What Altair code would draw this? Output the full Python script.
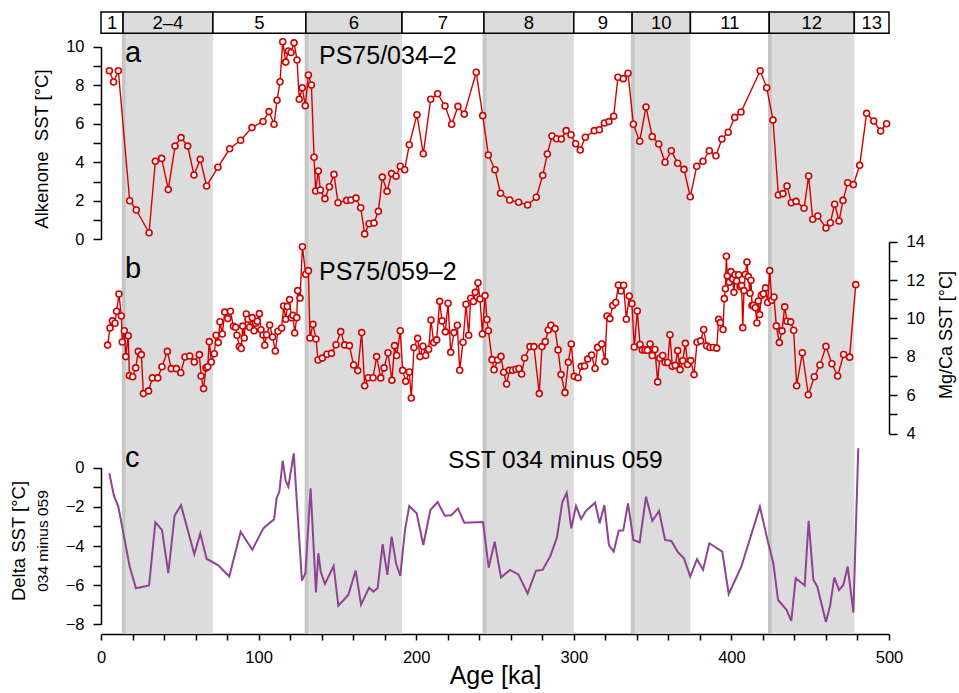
import altair as alt
import pandas as pd

# ---------------- data ----------------
stage_names = ["1", "2–4", "5", "6", "7", "8", "9", "10", "11", "12", "13"]
stage_start = [0, 14, 71, 130, 191, 243, 300, 337, 374, 424, 478]
stage_end = [14, 71, 130, 191, 243, 300, 337, 374, 424, 478, 500]
stage_glacial = [0, 1, 0, 1, 0, 1, 0, 1, 0, 1, 0]

glacial_start = [14, 130, 243, 337, 424]
glacial_end = [71, 191, 300, 374, 478]
termination_start = [13.2, 129.2, 242.2, 336.2, 423.2]
termination_end = [15.6, 131.6, 244.6, 338.6, 425.6]

a_age = [5.3, 8.0, 11.0, 18.2, 22.4, 30.5, 34.5, 38.5, 42.7, 47.0,
         50.8, 55.0, 59.0, 63.0, 67.0, 74.2, 81.6, 88.6, 95.8, 102.8,
         106.6, 109.8, 111.7, 113.6, 115.3, 117.2, 118.9, 120.6, 122.5, 124.4,
         125.8, 127.7, 129.6, 131.6, 133.5, 135.2, 136.2, 137.9, 139.2, 142.1,
         144.9, 147.8, 150.4, 155.9, 158.6, 161.8, 164.8, 167.3, 170.1, 173.2,
         176.0, 178.5, 181.5, 184.4, 187.2, 189.9, 192.7, 195.6, 200.5, 204.5,
         209.2, 213.6, 218.3, 222.5, 226.5, 230.5, 238.1, 242.2, 245.8, 250.0,
         253.5, 259.3, 265.0, 270.7, 276.2, 280.3, 283.2, 286.2, 289.1, 292.1,
         295.2, 298.2, 301.2, 304.1, 307.3, 313.0, 316.2, 319.4, 322.3, 325.3,
         328.0, 331.4, 334.4, 337.8, 341.8, 345.8, 349.8, 353.9, 357.9, 361.9,
         365.9, 369.9, 373.9, 378.0, 382.0, 386.0, 390.2, 394.0, 398.0, 402.1,
         406.1, 418.3, 422.4, 426.4, 429.8, 432.7, 435.3, 438.0, 441.0, 446.1,
         449.0, 451.6, 454.8, 460.0, 462.8, 465.5, 468.3, 470.8, 473.8, 477.4,
         481.4, 485.8, 490.3, 494.7, 498.5]
a_sst = [8.75, 8.17, 8.75, 2.0, 1.52, 0.34, 4.05, 4.2, 2.58, 4.84,
         5.28, 4.84, 3.34, 4.15, 2.77, 3.74, 4.7, 5.14, 5.8, 6.12,
         6.63, 5.97, 7.22, 8.18, 10.26, 9.2, 9.78, 9.7, 10.2, 9.31,
         7.27, 7.87, 6.94, 8.53, 8.01, 4.26, 2.51, 3.55, 2.56, 2.11,
         2.73, 3.37, 1.9, 2.02, 2.04, 2.14, 1.64, 0.28, 0.81, 0.85,
         1.45, 3.23, 2.49, 3.41, 3.27, 3.79, 3.61, 4.91, 6.47, 4.44,
         7.27, 7.56, 6.92, 5.97, 6.9, 6.5, 8.67, 6.42, 4.38, 3.61,
         2.39, 2.04, 1.92, 1.78, 2.18, 3.32, 4.43, 5.36, 5.22, 5.21,
         5.64, 5.43, 4.96, 4.64, 5.3, 5.64, 5.69, 6.04, 6.11, 6.39,
         8.41, 8.34, 8.62, 5.97, 5.09, 6.87, 5.33, 4.95, 4.0, 4.6,
         3.95, 3.63, 2.21, 3.79, 4.05, 4.6, 4.34, 5.21, 5.56, 6.33,
         6.61, 8.75, 7.87, 6.19, 2.3, 2.37, 2.77, 1.9, 1.97, 1.61,
         3.29, 1.04, 1.21, 0.59, 0.86, 1.82, 0.95, 2.02, 2.94, 2.84,
         3.84, 6.54, 6.14, 5.62, 6.0]

b_age = [4.2, 5.7, 7.2, 8.9, 9.9, 11.4, 12.9, 13.5, 14.8, 15.7,
         17.3, 18.0, 20.1, 22.0, 23.7, 25.6, 26.9, 30.2, 32.6, 36.0,
         38.7, 42.1, 44.6, 47.8, 50.6, 53.3, 56.3, 59.2, 62.4, 63.5,
         65.1, 66.6, 67.7, 68.7, 70.0, 71.9, 73.0, 74.4, 75.5, 77.0,
         78.5, 80.4, 82.1, 84.0, 85.4, 86.3, 87.8, 89.0, 89.9, 90.9,
         92.2, 93.3, 94.3, 96.0, 97.1, 98.1, 99.2, 100.5, 101.5, 102.8,
         103.9, 105.1, 107.0, 108.9, 110.6, 112.3, 114.6, 115.9, 117.2, 118.2,
         119.7, 120.8, 121.8, 122.9, 124.2, 124.8, 126.3, 127.8, 129.9, 131.6,
         132.6, 134.5, 136.4, 137.7, 140.4, 143.4, 146.2, 149.1, 152.1, 154.6,
         157.6, 160.3, 162.9, 165.4, 167.3, 169.6, 172.6, 174.9, 177.5, 179.6,
         182.1, 184.6, 186.3, 187.6, 189.9, 191.4, 193.3, 195.6, 196.9, 198.6,
         200.9, 202.4, 204.3, 206.0, 207.9, 209.4, 211.1, 213.0, 214.9, 216.4,
         218.5, 220.2, 221.9, 224.0, 226.1, 227.6, 229.7, 231.6, 233.3, 234.6,
         236.3, 237.5, 239.2, 240.5, 242.0, 243.7, 244.9, 245.8, 248.1, 249.4,
         251.7, 253.8, 255.5, 257.4, 259.1, 261.2, 263.3, 265.2, 266.9, 268.8,
         272.2, 274.7, 278.1, 279.8, 281.9, 283.8, 285.5, 288.1, 290.0, 291.9,
         294.4, 296.5, 298.4, 300.3, 302.7, 304.8, 306.9, 308.8, 311.3, 313.5,
         315.1, 317.7, 319.8, 321.1, 322.9, 324.7, 326.6, 328.3, 329.9, 331.6,
         333.3, 335.2, 336.9, 338.4, 340.3, 342.0, 343.5, 345.2, 346.7, 348.4,
         349.8, 351.5, 353.2, 354.5, 356.4, 357.9, 359.6, 361.0, 362.5, 364.4,
         365.9, 367.4, 369.1, 370.8, 372.2, 374.2, 376.3, 378.2, 380.5, 382.4,
         384.3, 386.4, 388.5, 390.7, 391.9, 393.0, 394.7, 395.5, 396.2, 396.8,
         397.4, 398.7, 399.7, 400.8, 401.6, 402.3, 403.3, 404.6, 405.5, 406.5,
         407.2, 408.0, 408.8, 409.9, 410.7, 411.8, 412.4, 413.1, 413.9, 415.2,
         416.2, 417.1, 417.9, 419.0, 420.3, 421.6, 423.0, 424.3, 425.6, 427.0,
         428.5, 430.4, 432.1, 433.8, 435.3, 437.6, 439.5, 441.4, 445.0, 448.8,
         452.6, 456.2, 460.0, 463.8, 467.4, 471.2, 475.0, 478.9]
b_sst = [8.61, 9.5, 9.87, 9.75, 10.37, 11.27, 10.13, 8.77, 9.36, 8.01,
         9.1, 7.02, 6.96, 7.42, 8.28, 8.11, 6.08, 6.22, 6.9, 6.9,
         7.48, 8.28, 7.38, 7.38, 7.17, 7.99, 8.04, 7.73, 8.11, 7.0,
         6.34, 7.42, 7.48, 8.79, 7.73, 8.16, 9.12, 8.74, 9.83, 9.19,
         10.33, 9.99, 10.37, 9.59, 9.54, 9.12, 8.53, 8.43, 9.6, 8.98,
         10.23, 9.96, 9.54, 10.04, 9.36, 9.75, 9.85, 10.25, 9.41, 9.13,
         8.6, 9.15, 9.66, 9.03, 8.3, 9.33, 9.5, 10.65, 9.96, 10.62,
         10.98, 10.04, 10.16, 9.24, 10.04, 11.45, 11.06, 13.74, 12.3, 12.49,
         8.98, 9.69, 8.93, 7.83, 7.93, 8.13, 8.18, 8.63, 9.31, 8.62,
         8.58, 7.57, 7.28, 9.26, 6.49, 6.91, 6.91, 8.01, 6.9, 7.42,
         8.21, 6.77, 8.58, 8.07, 9.36, 7.29, 6.72, 7.21, 5.85, 8.48,
         8.96, 8.01, 8.55, 8.07, 8.39, 9.92, 8.74, 8.88, 10.89, 9.87,
         9.3, 10.79, 8.23, 9.26, 9.64, 7.3, 8.76, 10.74, 9.12, 11.05,
         10.88, 11.36, 11.86, 11.01, 9.19, 11.19, 9.94, 9.36, 7.85, 7.33,
         7.83, 8.02, 7.19, 6.58, 7.3, 7.3, 7.35, 7.39, 7.1, 7.94,
         8.53, 8.53, 6.08, 8.53, 8.79, 9.4, 9.64, 9.47, 8.36, 7.07,
         6.13, 7.71, 8.67, 6.98, 6.91, 7.5, 7.52, 7.88, 8.09, 7.39,
         8.49, 8.67, 7.75, 10.13, 9.99, 10.67, 10.83, 11.74, 11.43, 11.73,
         9.96, 11.17, 10.77, 8.51, 10.39, 8.64, 8.36, 8.36, 8.34, 8.67,
         8.07, 8.38, 6.69, 7.92, 8.07, 7.71, 7.7, 9.15, 7.5, 7.55,
         8.32, 7.33, 7.79, 8.7, 7.6, 7.8, 7.07, 8.76, 8.83, 9.42,
         8.57, 8.48, 8.48, 8.45, 9.95, 9.78, 9.42, 11.03, 11.55, 13.24,
         12.22, 11.89, 12.44, 12.06, 11.36, 12.28, 11.95, 12.28, 11.66, 11.71,
         9.52, 11.45, 12.29, 12.94, 12.18, 11.31, 11.99, 10.67, 10.68, 10.56,
         9.76, 10.91, 10.2, 11.2, 11.29, 11.59, 10.83, 12.49, 10.95, 11.12,
         9.61, 8.74, 9.35, 10.6, 9.85, 9.82, 9.38, 6.49, 8.21, 6.02,
         6.96, 7.57, 8.54, 7.64, 7.0, 8.12, 7.98, 11.76]

c_age = [5.3, 8.2, 11.0, 18.2, 22.2, 30.5, 34.5, 38.7, 42.7, 46.7,
         50.8, 59.2, 63.0, 67.0, 74.4, 81.4, 88.6, 96.0, 103.0, 106.2,
         109.8, 111.5, 113.2, 115.3, 117.2, 118.9, 122.3, 127.5, 129.7, 133.0,
         136.4, 137.9, 139.4, 142.1, 147.6, 150.6, 156.9, 161.6, 165.0, 170.1,
         172.8, 175.5, 178.7, 181.7, 184.4, 187.2, 189.9, 192.9, 195.6, 200.3,
         204.5, 209.0, 213.6, 218.1, 222.3, 226.5, 230.5, 242.4, 246.0, 249.8,
         253.8, 259.5, 264.8, 270.7, 276.0, 280.2, 285.1, 289.3, 292.7, 295.5,
         298.4, 301.4, 304.6, 307.7, 313.5, 316.4, 319.4, 322.3, 325.3, 328.5,
         331.4, 334.4, 337.8, 341.8, 345.8, 349.8, 354.1, 357.9, 361.9, 366.1,
         369.9, 373.9, 378.2, 382.0, 386.0, 394.2, 398.3, 406.3, 418.1, 422.4,
         426.6, 429.6, 435.1, 438.0, 440.8, 446.5, 449.0, 452.0, 454.5, 460.0,
         462.6, 465.3, 468.3, 471.0, 473.8, 477.4, 480.5]
c_dsst = [-0.29, -1.43, -1.99, -5.05, -6.16, -6.02, -2.79, -3.18, -5.39, -2.45,
          -1.92, -4.42, -3.35, -4.65, -4.99, -5.56, -3.27, -4.19, -3.1, -2.88,
          -2.64, -1.53, -1.22, 0.36, -0.68, -0.97, 0.73, -5.77, -5.39, -1.05,
          -6.37, -4.37, -5.3, -5.94, -5.02, -7.05, -6.5, -5.26, -7.0, -6.13,
          -6.33, -6.16, -3.91, -5.48, -3.52, -4.88, -5.53, -3.18, -1.96, -2.33,
          -3.95, -2.16, -1.75, -2.45, -2.43, -2.08, -2.81, -2.78, -5.11, -3.78,
          -5.6, -5.22, -5.45, -6.42, -5.26, -5.22, -4.51, -3.56, -1.77, -1.28,
          -3.1, -1.96, -2.62, -2.21, -1.79, -2.84, -1.91, -3.95, -4.29, -3.22,
          -3.2, -1.82, -3.69, -3.81, -1.48, -2.72, -2.21, -3.69, -3.74, -4.32,
          -4.63, -5.56, -4.67, -5.22, -3.86, -4.29, -6.45, -5.05, -1.99, -3.52,
          -4.88, -6.76, -7.27, -7.83, -5.65, -6.02, -2.71, -5.72, -6.08, -7.88,
          -7.06, -5.6, -6.25, -5.99, -5.05, -7.4, 0.99]

a_ticks = list(range(0, 11))
b_ticks = list(range(4, 15))
c_ticks = list(range(-8, 1))
x_ticks = list(range(0, 501, 20))

label_texts = ["a", "PS75/034–2", "b", "PS75/059–2", "c", "SST 034 minus 059"]
title_texts = ["Alkenone\u00a0 SST [°C]", "Mg/Ca SST [°C]", "Delta SST [°C]",
               "034 minus 059", "Age [ka]"]

# ---------------- styling ----------------
RED = "#d40000"
PURPLE = "#8e4393"
GRAY = "#dcdcdc"
DARK = "#c6c6c6"
FONT = "Liberation Sans"
W, H = 788, 622
BAND = 21.3

stages = pd.DataFrame({"stage": stage_names, "start": stage_start,
                       "end": stage_end, "glacial": stage_glacial})
glac = pd.DataFrame({"start": glacial_start, "end": glacial_end})
term = pd.DataFrame({"start": termination_start, "end": termination_end})
dfa = pd.DataFrame({"age": a_age, "sst": a_sst})
dfb = pd.DataFrame({"age": b_age, "sst": b_sst})
dfc = pd.DataFrame({"age": c_age, "dsst": c_dsst})

xscale = alt.Scale(domain=[0, 500], nice=False, zero=False)
xaxis = alt.Axis(values=x_ticks,
                 labelExpr="datum.value % 100 === 0 ? datum.label : ''",
                 tickSize=6, tickWidth=1.5, tickColor="black",
                 domainColor="black", domainWidth=1.5,
                 labelFontSize=16.5, labelColor="black", labelPadding=9,
                 labelFlush=False, labelOverlap=False, grid=False,
                 title=title_texts[4], titleFontSize=25, titleFontWeight="normal",
                 titleColor="black", titleBaseline="alphabetic", titleY=49)


def X(field):
    return alt.X(f"{field}:Q", scale=xscale, axis=xaxis)


def yaxis(orient, ticks):
    return alt.Axis(orient=orient, values=ticks,
                    labelExpr="datum.value % 2 === 0 ? datum.label : ''",
                    tickSize=8, tickWidth=1.5, tickColor="black",
                    domainColor="black", domainWidth=1.5,
                    labelFontSize=16.5, labelColor="black", labelPadding=9,
                    labelOverlap=False, labelFlush=False, grid=False, title=None)


shade = alt.Chart(glac).mark_rect(color=GRAY).encode(
    x=X("start"), x2="end", y=alt.value(BAND), y2=alt.value(H))
term_ch = alt.Chart(term).mark_rect(color=DARK).encode(
    x=X("start"), x2="end", y=alt.value(BAND), y2=alt.value(H))
boxes = alt.Chart(stages).mark_rect(stroke="black", strokeWidth=1.5).encode(
    x=X("start"), x2="end", y=alt.value(0), y2=alt.value(BAND),
    fill=alt.Fill("glacial:N", scale=alt.Scale(domain=[0, 1], range=["white", GRAY]),
                  legend=None))
stext = alt.Chart(stages).transform_calculate(
    mid="(datum.start + datum.end) / 2").mark_text(
    fontSize=18.5, baseline="middle", color="black").encode(
    x=X("mid"), y=alt.value(BAND / 2), text="stage:N")

# panel a
ya = alt.Y("sst:Q", scale=alt.Scale(domain=[0, 10], range=[227.3, 34.7], nice=False, zero=False),
           axis=yaxis("left", a_ticks))
a_line = alt.Chart(dfa).mark_line(color=RED, strokeWidth=1.4).encode(x=X("age"), y=ya)
a_pts = alt.Chart(dfa).mark_point(shape="circle", filled=True, fill="white", stroke=RED,
                                  strokeWidth=1.6, size=36, opacity=1).encode(x=X("age"), y=ya)
panel_a = alt.layer(a_line, a_pts)

# panel b
yb = alt.Y("sst:Q", scale=alt.Scale(domain=[4, 14], range=[421.5, 229.7], nice=False, zero=False),
           axis=yaxis("right", b_ticks))
b_line = alt.Chart(dfb).mark_line(color=RED, strokeWidth=1.4).encode(x=X("age"), y=yb)
b_pts = alt.Chart(dfb).mark_point(shape="circle", filled=True, fill="white", stroke=RED,
                                  strokeWidth=1.6, size=36, opacity=1).encode(x=X("age"), y=yb)
panel_b = alt.layer(b_line, b_pts)

# panel c
yc = alt.Y("dsst:Q", scale=alt.Scale(domain=[-8, 0], range=[612.3, 455.7], nice=False, zero=False),
           axis=yaxis("left", c_ticks))
panel_c = alt.Chart(dfc).mark_line(color=PURPLE, strokeWidth=2).encode(x=X("age"), y=yc)


def txt(s, x, y, size, angle=0, align="left", baseline="alphabetic"):
    return alt.Chart(alt.Data(values=[{"t": s}])).mark_text(
        align=align, baseline=baseline, fontSize=size, angle=angle, color="black"
    ).encode(x=alt.value(x), y=alt.value(y), text="t:N")


labels = [
    txt(label_texts[0], 24, 49.7, 29),
    txt(label_texts[1], 218, 52, 25),
    txt(label_texts[2], 24, 266, 29),
    txt(label_texts[3], 218, 268, 25),
    txt(label_texts[4], 24, 454.7, 29),
    txt(label_texts[5], 347, 456.3, 24.5),
    txt(title_texts[0], -59, 137, 18.5, angle=270, align="center", baseline="middle"),
    txt(title_texts[1], 846, 323, 18, angle=270, align="center", baseline="middle"),
    txt(title_texts[2], -82, 529, 18.5, angle=270, align="center", baseline="middle"),
    txt(title_texts[3], -58, 529, 15.5, angle=270, align="center", baseline="middle"),
]

chart = alt.layer(
    shade, term_ch, boxes, stext, panel_c, panel_b, panel_a, *labels
).resolve_scale(y="independent").properties(
    width=W, height=H,
    autosize=alt.AutoSizeParams(type="none"),
    padding={"left": 101, "top": 12, "right": 70, "bottom": 59},
).configure(font=FONT).configure_view(stroke=None)

chart.save("out.html", embed_options={"renderer": "svg", "actions": False})
